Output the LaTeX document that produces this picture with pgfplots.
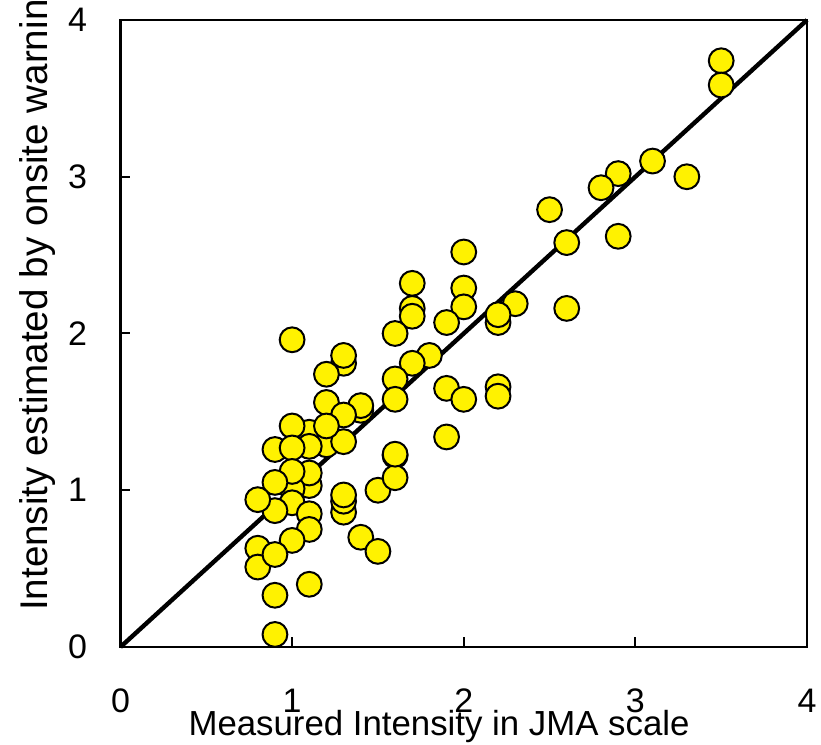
\documentclass[border=0pt]{standalone}
\usepackage{fontspec}
\setmainfont{Liberation Sans}
\usepackage{pgfplots}
\pgfplotsset{compat=1.18}

\begin{document}
\begin{tikzpicture}
\begin{axis}[
    scale only axis,
    width=343.25pt, height=313.5pt,
    xmin=0, xmax=4, ymin=0, ymax=4,
    xtick={0,1,2,3,4}, ytick={0,1,2,3,4},
    xtick pos=bottom, ytick pos=left,
    tick align=inside,
    major tick length=5pt,
    every tick/.style={black, line width=1pt},
    axis line style={line width=1.1pt},
    /pgf/number format/assume math mode=true,
    ticklabel style={font=\fontsize{17}{20}\selectfont},
    xticklabel style={anchor=center, yshift=-26.75pt},
    yticklabel style={anchor=center, xshift=-21.5pt},
    xlabel={Measured Intensity in JMA scale},
    ylabel={Intensity estimated by onsite warning},
    xlabel style={font=\fontsize{17.4}{20}\selectfont,
        at={(axis description cs:0.464,-0.1404)}, anchor=base},
    ylabel style={font=\fontsize{19.3}{22}\selectfont,
        at={(axis description cs:-0.1056,0.0463)}, anchor=base west},
    clip=false,
]
% line of equality
\addplot[black, line width=2.2pt, no marks] coordinates {(0,0) (4,4)};

\addplot[only marks, mark=*, mark size=6.2pt,
    mark options={fill=yellow, draw=black, line width=1pt}]
coordinates {
(3.5,3.74) (3.5,3.585) (3.1,3.10) (3.3,3.00) (2.9,3.02) (2.8,2.93)
(2.5,2.79) (2.6,2.58) (2.9,2.62) (2.6,2.16) (2.3,2.19) (2.2,2.07)
(2.2,2.12)
(2.0,2.52) (1.7,2.32) (2.0,2.29) (2.0,2.17) (1.7,2.16) (1.7,2.11)
(1.9,2.07) (1.6,2.00) (1.8,1.86) (1.7,1.81) (1.6,1.71) (1.6,1.58)
(1.9,1.65) (2.0,1.58) (2.2,1.66) (2.2,1.60) (1.9,1.34) (1.6,1.22)
(1.4,1.51) (1.4,1.54)
(1.0,1.96) (1.3,1.81) (1.3,1.86) (1.2,1.74) (1.2,1.56) (1.3,1.48)
(1.1,1.37) (1.2,1.29) (1.3,1.31) (1.2,1.41) (1.0,1.41)
(0.9,1.26) (1.1,1.28) (1.0,1.27)
(1.1,1.03) (1.1,1.11) (1.0,1.01) (1.0,0.92) (1.0,1.12) (0.9,1.05)
(0.9,0.87) (0.8,0.94) (1.1,0.85) (1.1,0.75) (1.0,0.68)
(1.3,0.86) (1.3,0.93) (1.3,0.97) (1.4,0.70) (1.5,0.61) (1.5,1.00)
(1.6,1.08) (1.6,1.23)
(0.8,0.63) (0.8,0.51) (0.9,0.59) (0.9,0.33) (1.1,0.40) (0.9,0.08)
};

\coordinate (bbA) at (rel axis cs:-0.1755,-0.1563);
\coordinate (bbB) at (rel axis cs:1.0204,1.0319);
\end{axis}
\pgfresetboundingbox
\path[use as bounding box] (bbA) rectangle (bbB);
\end{tikzpicture}
\end{document}
